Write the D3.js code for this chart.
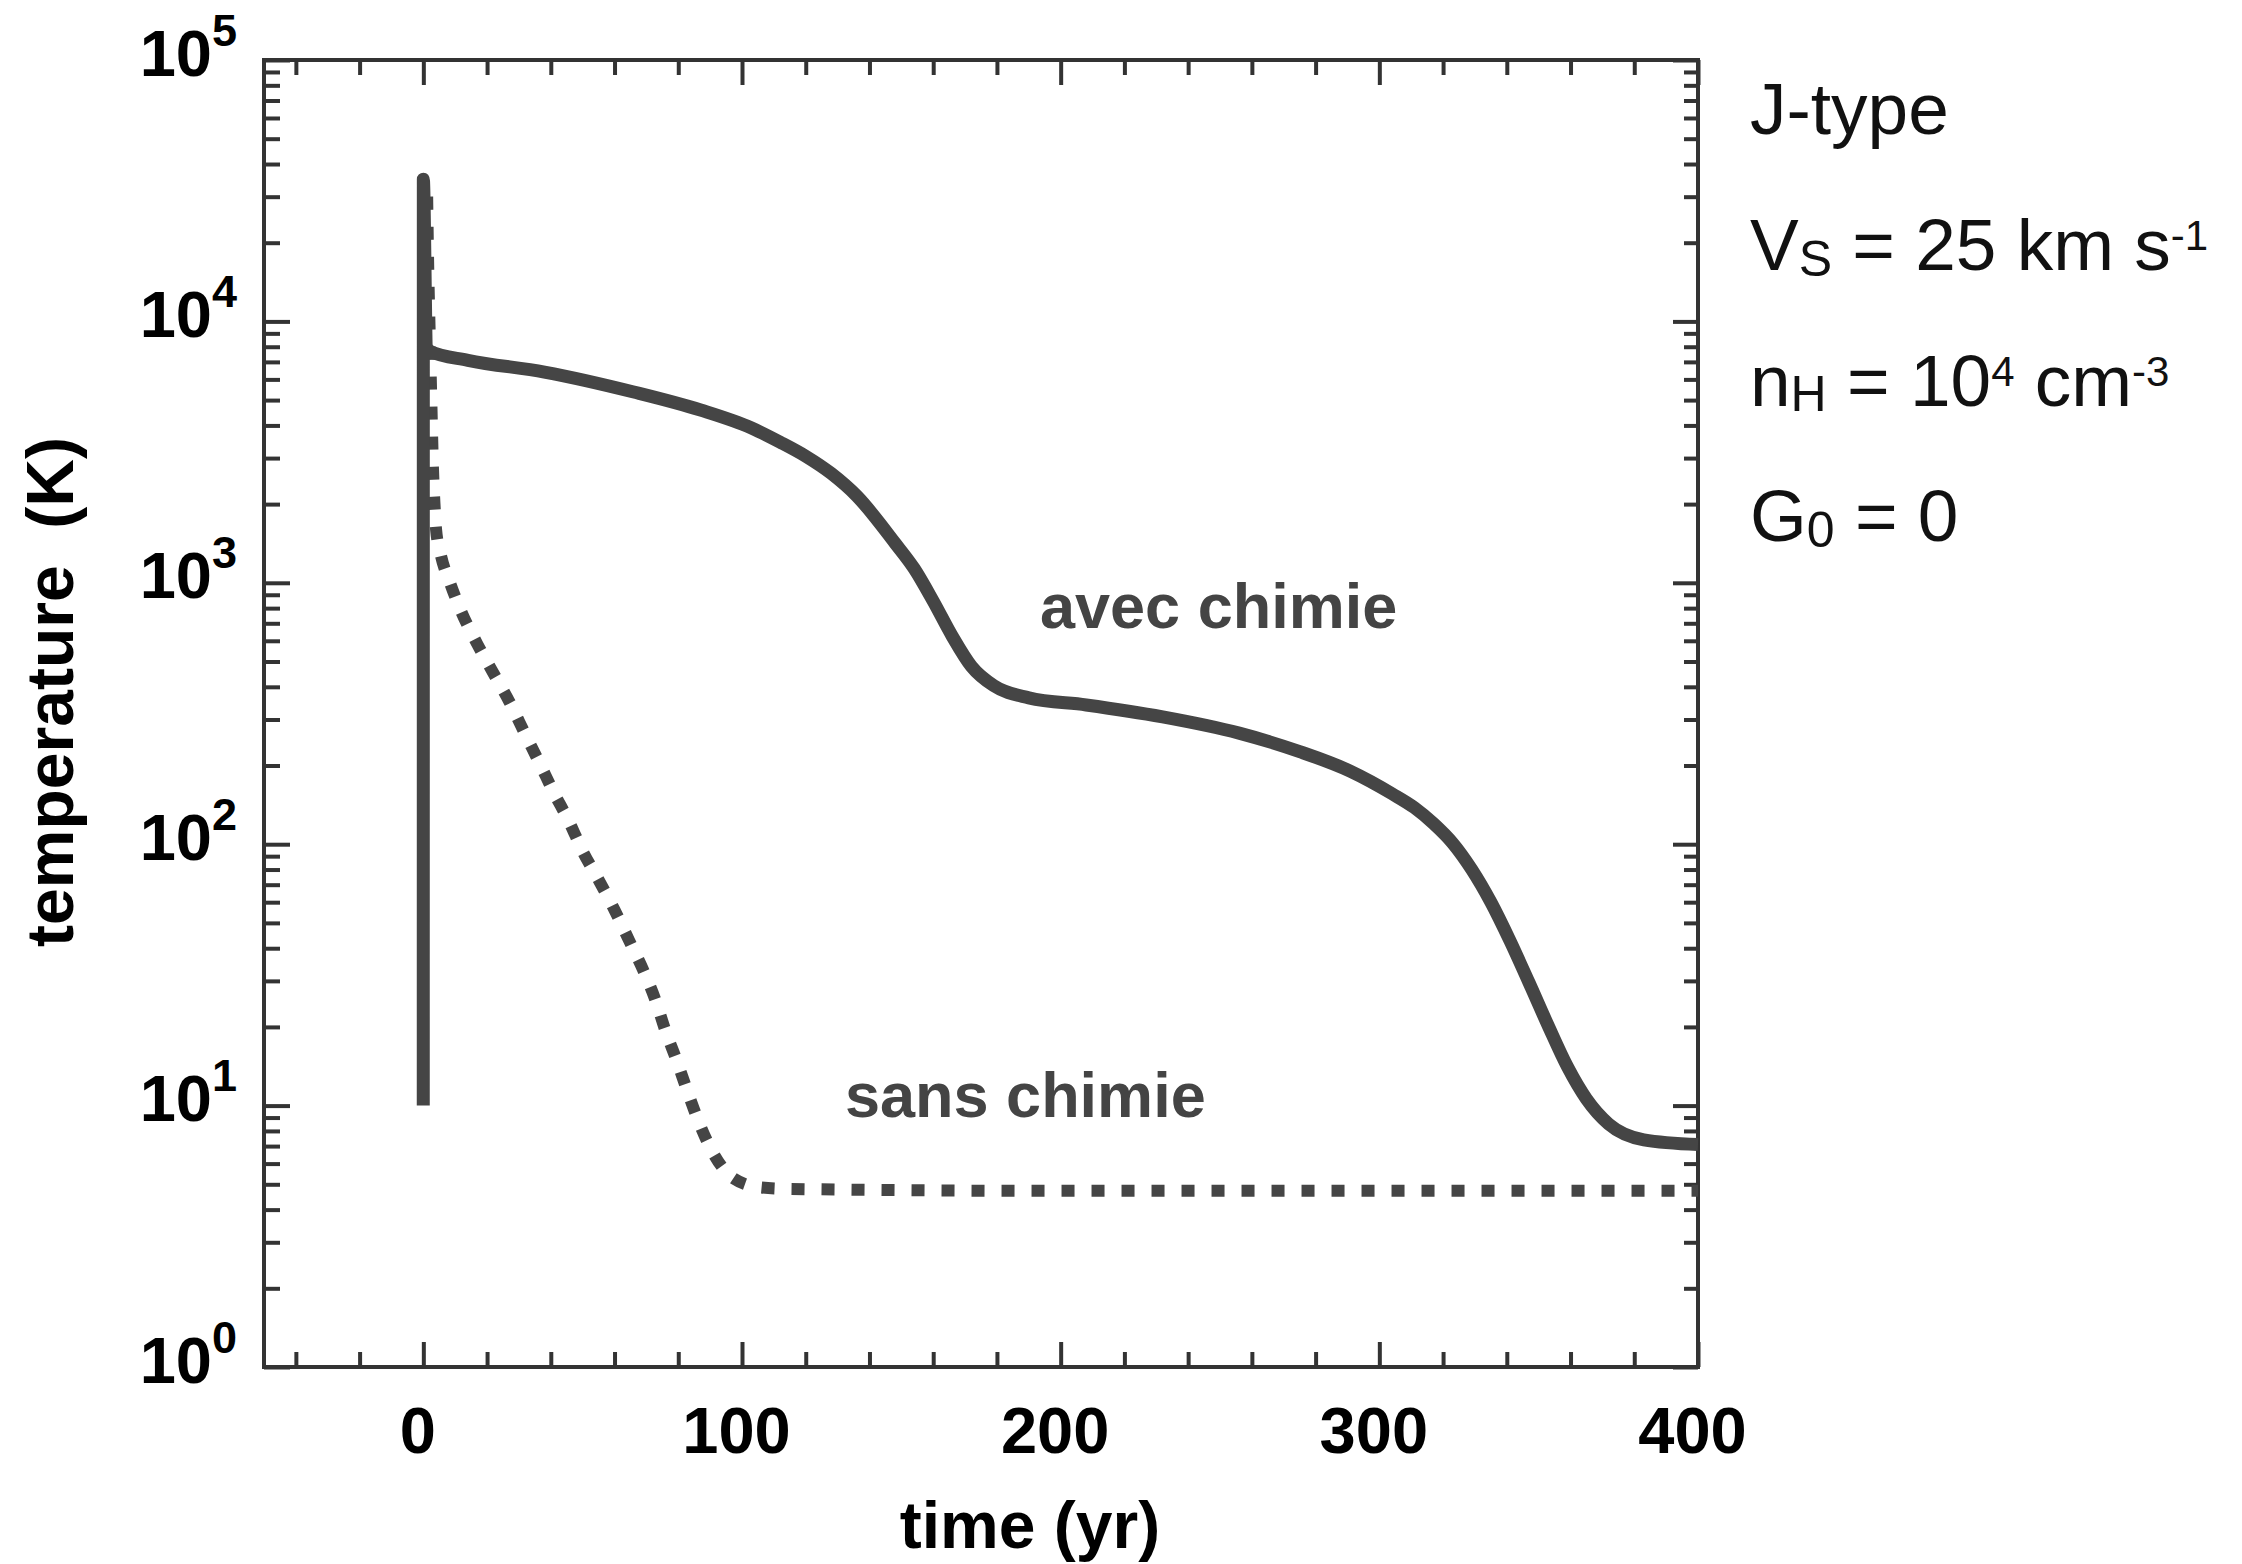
<!DOCTYPE html>
<meta charset="utf-8">
<script src="https://d3js.org/d3.v7.min.js"></script>
<style>
  body { margin: 0; background: #fff; }
</style>
<div id="chart"></div>
<script>

// values: time in yr, temperature in K
var avecTime = [-0.02, 0, 1, 2, 14, 38, 66, 87, 103, 112, 120, 128, 136, 148, 154, 160, 166, 172, 179, 190, 208, 232, 256, 275, 291, 304, 311, 317, 323, 329, 335, 341, 347, 353, 359, 365, 372, 383, 400];
var avecTemp = [10, 35000, 8000, 7700, 7100, 6400, 5370, 4580, 3910, 3450, 3050, 2620, 2150, 1420, 1135, 851, 624, 479, 404, 363, 341, 307, 266, 226, 190, 156, 138, 120, 101, 80, 60, 42.7, 29.5, 20.2, 14.1, 10.6, 8.5, 7.4, 7.1];

var sansTime = [1.2, 1.5, 2, 2.5, 3, 3.5, 4, 5.5, 8.3, 12, 17, 22, 27, 32, 36.5, 41, 45.6, 50, 55, 60, 64.5, 69, 73, 76, 79.4, 82.7, 86.2, 90.6, 97.4, 106, 115, 200, 300, 400];
var sansTemp = [30000, 17000, 9000, 5000, 2800, 2000, 1600, 1276, 1005, 771, 581, 451, 351, 263, 204, 157, 123, 94, 73, 56, 43, 33, 25, 19.3, 15, 11.5, 8.8, 6.7, 5.26, 4.86, 4.8, 4.72, 4.72, 4.72];

var xTicks = [0, 100, 200, 300, 400];
var yTicks = [1, 10, 100, 1000, 10000, 100000];
var yExponents = ["0", "1", "2", "3", "4", "5"];

var width = 2242, height = 1564;
var margin = {top: 60, right: 544, bottom: 197, left: 264};
var w = width - margin.left - margin.right,
    h = height - margin.top - margin.bottom;

var boldFont = "'Liberation Sans', Arial, Helvetica, sans-serif";
var axisColor = "#333";
var lineColor = "#454545";

var svg = d3.select("#chart")
  .append("svg")
    .attr("width", width)
    .attr("height", height);

var g = svg.append("g")
    .attr("transform", "translate(" + margin.left + "," + margin.top + ")");

var x = d3.scaleLinear().domain([-50, 400]).range([0, w]);
var y = d3.scaleLog().domain([1, 1e5]).range([h, 0]);

// minor ticks
var xMinor = d3.range(-40, 401, 20).filter(function(d){ return d % 100 !== 0; });
var yMinor = [];
for (var e = 0; e < 5; e++) {
  for (var k = 2; k <= 9; k++) yMinor.push(k * Math.pow(10, e));
}

function styleAxis(sel) {
  sel.select(".domain").remove();
  sel.selectAll(".tick line").attr("stroke", axisColor).attr("stroke-width", 4);
}

// bottom axis with labels
var xAxis = g.append("g")
    .attr("transform", "translate(0," + h + ")")
    .call(d3.axisBottom(x).tickValues(xTicks).tickSize(-25).tickPadding(86).tickFormat(d3.format("d")));
styleAxis(xAxis);
xAxis.selectAll(".tick text")
    .attr("dy", 0)
    .attr("x", -6)
    .attr("fill", "#000")
    .style("font-family", boldFont)
    .style("font-weight", "bold")
    .style("font-size", "65px");

g.append("g")
    .attr("transform", "translate(0," + h + ")")
    .call(d3.axisBottom(x).tickValues(xMinor).tickSize(-15).tickFormat(""))
    .call(styleAxis);

// top axis
g.append("g")
    .call(d3.axisTop(x).tickValues(xTicks).tickSize(-25).tickFormat(""))
    .call(styleAxis);
g.append("g")
    .call(d3.axisTop(x).tickValues(xMinor).tickSize(-15).tickFormat(""))
    .call(styleAxis);

// left axis with 10^n labels
var yAxis = g.append("g")
    .call(d3.axisLeft(y).tickValues(yTicks).tickSize(-26).tickPadding(27).tickFormat(""));
styleAxis(yAxis);
yAxis.selectAll(".tick text")
    .attr("dy", 15)
    .attr("fill", "#000")
    .style("font-family", boldFont)
    .style("font-weight", "bold")
    .style("font-size", "65px")
    .each(function(d, i) {
      var t = d3.select(this);
      t.append("tspan").text("10");
      t.append("tspan").attr("dy", -30).style("font-size", "45px").text(yExponents[i]);
    });

g.append("g")
    .call(d3.axisLeft(y).tickValues(yMinor).tickSize(-16).tickFormat(""))
    .call(styleAxis);

// right axis
g.append("g")
    .attr("transform", "translate(" + w + ",0)")
    .call(d3.axisRight(y).tickValues(yTicks).tickSize(-25).tickFormat(""))
    .call(styleAxis);
g.append("g")
    .attr("transform", "translate(" + w + ",0)")
    .call(d3.axisRight(y).tickValues(yMinor).tickSize(-14).tickFormat(""))
    .call(styleAxis);

// frame
g.append("rect")
    .attr("width", w)
    .attr("height", h)
    .attr("fill", "none")
    .attr("stroke", axisColor)
    .attr("stroke-width", 4);

var line = d3.line()
    .curve(d3.curveMonotoneX)
    .x(function(d){ return x(d[0]); })
    .y(function(d){ return y(d[1]); });

g.append("path")
    .datum(d3.zip(sansTime, sansTemp))
    .attr("d", line)
    .attr("fill", "none")
    .attr("stroke", lineColor)
    .attr("stroke-width", 12)
    .attr("stroke-dasharray", "13,17");

g.append("path")
    .datum(d3.zip(avecTime, avecTemp))
    .attr("d", line)
    .attr("fill", "none")
    .attr("stroke", lineColor)
    .attr("stroke-width", 13)
    .attr("stroke-linejoin", "round");

// curve labels
g.append("text")
    .attr("x", 1040 - margin.left)
    .attr("y", 628 - margin.top)
    .style("font-family", boldFont)
    .style("font-weight", "bold")
    .style("font-size", "63px")
    .attr("fill", "#444")
    .text("avec chimie");

g.append("text")
    .attr("x", 845 - margin.left)
    .attr("y", 1117 - margin.top)
    .style("font-family", boldFont)
    .style("font-weight", "bold")
    .style("font-size", "63px")
    .attr("fill", "#444")
    .text("sans chimie");

// axis titles
svg.append("text")
    .attr("transform", "translate(73,692)rotate(-90)")
    .style("text-anchor", "middle")
    .style("font-family", boldFont)
    .style("font-weight", "bold")
    .style("font-size", "66px")
    .style("white-space", "pre")
    .text("temperature  (K)");

svg.append("text")
    .attr("x", 1030)
    .attr("y", 1548)
    .style("text-anchor", "middle")
    .style("font-family", boldFont)
    .style("font-weight", "bold")
    .style("font-size", "66px")
    .text("time (yr)");

// shock parameters
var info = svg.append("g")
    .style("font-family", "'Liberation Sans', Arial, Helvetica, sans-serif")
    .style("font-size", "73px")
    .attr("fill", "#111");

info.append("text").attr("x", 1750).attr("y", 134).text("J-type");

var t2 = info.append("text").attr("x", 1750).attr("y", 270);
t2.append("tspan").text("V");
t2.append("tspan").attr("dy", 6).style("font-size", "50px").text("S");
t2.append("tspan").attr("dy", -6).style("white-space", "pre").text(" = 25 km s");
t2.append("tspan").attr("dy", -20).style("font-size", "42px").text("-1");

var t3 = info.append("text").attr("x", 1750).attr("y", 406);
t3.append("tspan").text("n");
t3.append("tspan").attr("dy", 5).style("font-size", "50px").text("H");
t3.append("tspan").attr("dy", -5).style("white-space", "pre").text(" = 10");
t3.append("tspan").attr("dy", -20).style("font-size", "42px").text("4");
t3.append("tspan").attr("dy", 20).style("white-space", "pre").text(" cm");
t3.append("tspan").attr("dy", -20).style("font-size", "42px").text("-3");

var t4 = info.append("text").attr("x", 1750).attr("y", 541);
t4.append("tspan").text("G");
t4.append("tspan").attr("dy", 6).style("font-size", "50px").text("0");
t4.append("tspan").attr("dy", -6).style("white-space", "pre").text(" = 0");

</script>
